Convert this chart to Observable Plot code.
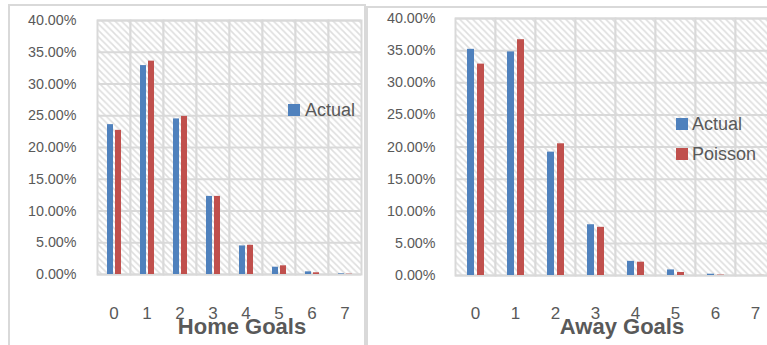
<!DOCTYPE html>
<html>
<head>
<meta charset="utf-8">
<script src="https://cdn.jsdelivr.net/npm/d3@7"></script>
<script src="https://cdn.jsdelivr.net/npm/@observablehq/plot@0.6"></script>
<style>
  html, body { margin: 0; padding: 0; background: #fff; }
  #page { position: relative; width: 767px; height: 345px; overflow: hidden; background: #fff; font-family: "Liberation Sans", Arial, sans-serif; }
  #page svg { position: absolute; top: 0; }
  .border { position: absolute; border-color: #d9d9d9; border-style: solid; box-sizing: border-box; pointer-events: none; }
  .title { position: absolute; width: 220px; text-align: center; font-weight: bold; font-size: 22px; line-height: 22px; color: #595959; }
  .leg { position: absolute; font-size: 18px; line-height: 18px; color: #595959; white-space: nowrap; }
  .sw { position: absolute; width: 12px; height: 12px; }
</style>
</head>
<body>
<div id="page"></div>
<script>
// ---- data ----
const goals = [0, 1, 2, 3, 4, 5, 6, 7];
const seriesNames = ["Actual", "Poisson"];
const seriesColors = ["#4f81bd", "#c0504d"];
const homeActual  = [0.236, 0.329, 0.245, 0.123, 0.045, 0.0115, 0.0042, 0.001];
const homePoisson = [0.227, 0.336, 0.249, 0.123, 0.046, 0.0137, 0.0027, 0.0005];
const awayActual  = [0.352, 0.348, 0.192, 0.079, 0.022, 0.0087, 0.002, 0.0];
const awayPoisson = [0.329, 0.367, 0.205, 0.075, 0.0207, 0.0047, 0.0006, 0.0001];
const yTicks = [0, 0.05, 0.1, 0.15, 0.2, 0.25, 0.3, 0.35, 0.4];

const page = document.getElementById("page");

function rows(actual, poisson) {
  const out = [];
  goals.forEach((g, i) => {
    out.push({goal: g, series: seriesNames[0], value: actual[i]});
    out.push({goal: g, series: seriesNames[1], value: poisson[i]});
  });
  return out;
}

function makePanel(data, cfg) {
  const svg = Plot.plot({
    width: cfg.width,
    height: 345,
    marginLeft: cfg.marginLeft,
    marginRight: cfg.marginRight,
    marginTop: cfg.marginTop,
    marginBottom: cfg.marginBottom,
    style: {background: "none", color: "#595959", fontFamily: "Liberation Sans, Arial, sans-serif"},
    fx: {domain: goals, padding: 0, label: null},
    x: {domain: seriesNames, paddingInner: cfg.paddingInner, paddingOuter: cfg.paddingOuter, axis: null},
    y: {domain: [0, 0.4], nice: false, label: null},
    color: {domain: seriesNames, range: seriesColors},
    marks: [
      Plot.frame({fill: `url(#${cfg.id})`, stroke: "#d9d9d9", strokeWidth: 2}),
      Plot.gridY({ticks: yTicks, stroke: "#d9d9d9", strokeOpacity: 1, strokeWidth: 2}),
      Plot.barY(data, {fx: "goal", x: "series", y: "value", fill: "series"}),
      Plot.axisY({ticks: yTicks, tickFormat: d3.format(".2%"), tickSize: 0, tickPadding: cfg.yPad, fontSize: 14.3, label: null}),
      Plot.axisFx({anchor: "bottom", tickSize: 0, tickPadding: cfg.xPad, fontSize: 17, label: null})
    ]
  });
  const defs = d3.select(svg).insert("defs", ":first-child");
  const pat = defs.append("pattern")
    .attr("id", cfg.id).attr("patternUnits", "userSpaceOnUse")
    .attr("width", 6.5).attr("height", 6.5);
  pat.append("rect").attr("width", 6.5).attr("height", 6.5).attr("fill", "#ffffff");
  pat.append("path").attr("d", "M0,0L6.5,6.5M-1,5.5L1,7.5M5.5,-1L7.5,1")
    .attr("stroke", "#dedede").attr("stroke-width", 1.5);
  svg.style.left = cfg.left + "px";
  page.appendChild(svg);
}

// Home goals panel
makePanel(rows(homeActual, homePoisson), {
  id: "hatchA", left: 0, width: 366,
  marginLeft: 94, marginRight: 2, marginTop: 20, marginBottom: 71,
  paddingInner: 0.286, paddingOuter: 1.0, yPad: 21, xPad: 32
});
// Away goals panel
makePanel(rows(awayActual, awayPoisson), {
  id: "hatchB", left: 366, width: 416,
  marginLeft: 86, marginRight: 3.6, marginTop: 18, marginBottom: 70,
  paddingInner: 0.333, paddingOuter: 1.11, yPad: 20, xPad: 31
});

// panel borders
function addDiv(cls, css, html) {
  const d = document.createElement("div");
  d.className = cls;
  Object.assign(d.style, css);
  if (html != null) d.textContent = html;
  page.appendChild(d);
  return d;
}
addDiv("border", {left: "8px", top: "4px", width: "358px", height: "400px", borderWidth: "2px 2px 0 2px"});
addDiv("border", {left: "366px", top: "6px", width: "420px", height: "400px", borderWidth: "2px 0 0 2px"});

// axis titles
addDiv("title", {left: (242 - 110) + "px", top: "316px"}, "Home Goals");
addDiv("title", {left: (622 - 110) + "px", top: "316px"}, "Away Goals");

// legends
addDiv("sw", {left: "288px", top: "104px", background: seriesColors[0]});
addDiv("leg", {left: "305px", top: "101px"}, seriesNames[0]);
addDiv("sw", {left: "676px", top: "118px", background: seriesColors[0]});
addDiv("leg", {left: "692px", top: "115px"}, seriesNames[0]);
addDiv("sw", {left: "676px", top: "148px", background: seriesColors[1]});
addDiv("leg", {left: "692px", top: "145px"}, seriesNames[1]);
</script>
</body>
</html>
